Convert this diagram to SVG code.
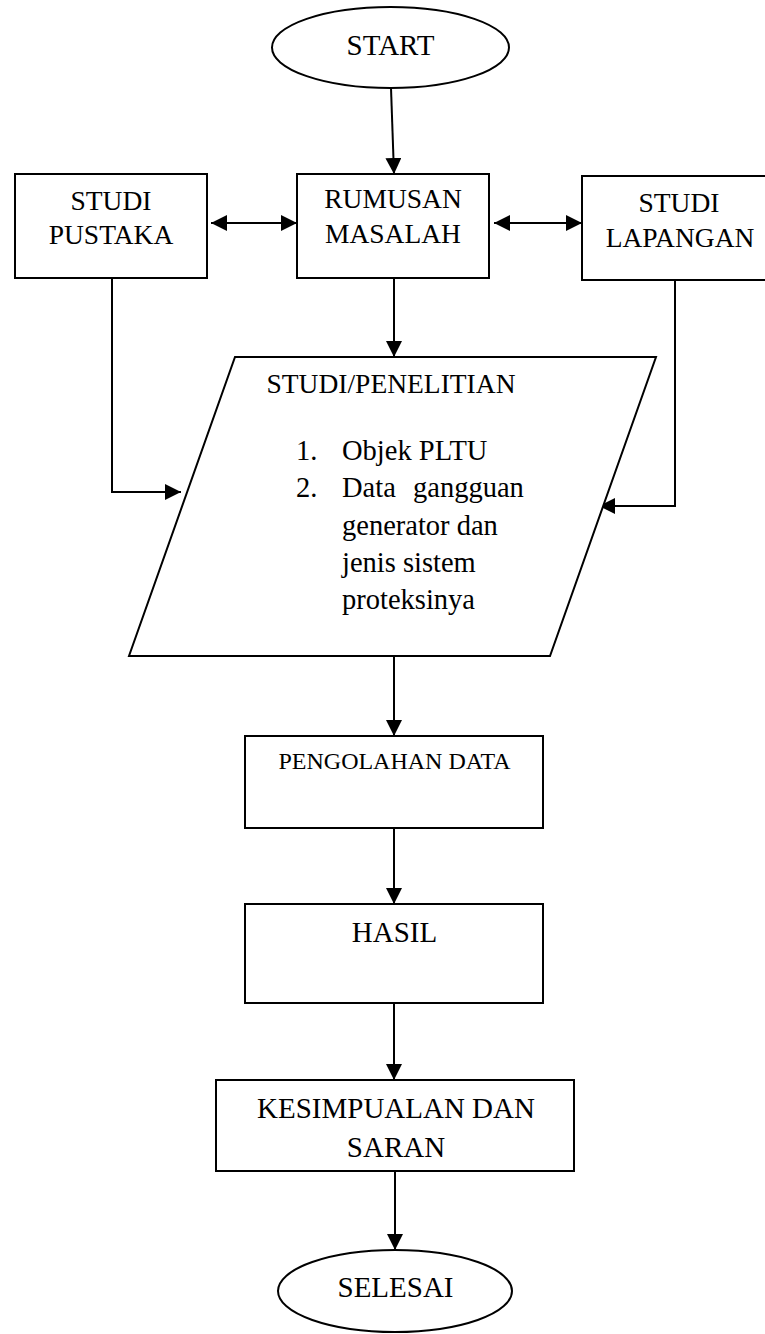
<svg xmlns="http://www.w3.org/2000/svg" width="765" height="1334" viewBox="0 0 765 1334">
  <style>
    .shape { fill: #ffffff; stroke: #000000; stroke-width: 2; }
    .conn { fill: none; stroke: #000000; stroke-width: 2; }
    text { font-family: "Liberation Serif", "Times New Roman", serif; fill: #000000; }
    .lbl { font-size: 27.5px; text-anchor: middle; }
    .big { font-size: 29px; text-anchor: middle; }
    .sm { font-size: 24px; text-anchor: middle; }
    .body { font-size: 28.5px; }
  </style>
  <defs>
    <marker id="head" viewBox="0 0 16 16" refX="16" refY="8" markerWidth="16" markerHeight="16" markerUnits="userSpaceOnUse" orient="auto-start-reverse">
      <path d="M0,0 L16,8 L0,16 z" fill="#000000"/>
    </marker>
  </defs>

  <rect width="765" height="1334" fill="#ffffff"/>

  <!-- connectors -->
  <g id="connectors">
    <line class="conn" x1="391" y1="88" x2="394" y2="174" marker-end="url(#head)"/>
    <line class="conn" x1="211" y1="223" x2="297" y2="223" marker-start="url(#head)" marker-end="url(#head)"/>
    <line class="conn" x1="494" y1="223" x2="582" y2="223" marker-start="url(#head)" marker-end="url(#head)"/>
    <line class="conn" x1="394" y1="278" x2="394" y2="357" marker-end="url(#head)"/>
    <polyline class="conn" points="112,278 112,492 181,492" marker-end="url(#head)"/>
    <polyline class="conn" points="675,280 675,506 599,506" marker-end="url(#head)"/>
    <line class="conn" x1="394" y1="656" x2="394" y2="736" marker-end="url(#head)"/>
    <line class="conn" x1="394" y1="828" x2="394" y2="904" marker-end="url(#head)"/>
    <line class="conn" x1="394" y1="1003" x2="394" y2="1080" marker-end="url(#head)"/>
    <line class="conn" x1="395" y1="1171" x2="395" y2="1250" marker-end="url(#head)"/>
  </g>

  <!-- start terminal -->
  <g id="start">
    <ellipse class="shape" cx="390.5" cy="47.5" rx="118.5" ry="40.5"/>
    <text class="big" x="390.5" y="55">START</text>
  </g>

  <!-- literature study -->
  <g id="studi-pustaka">
    <rect class="shape" x="15" y="174" width="192" height="104"/>
    <text class="lbl" x="111" y="210">STUDI</text>
    <text class="lbl" x="111" y="244">PUSTAKA</text>
  </g>

  <!-- problem formulation -->
  <g id="rumusan-masalah">
    <rect class="shape" x="297" y="174" width="192" height="104"/>
    <text class="lbl" x="393" y="208">RUMUSAN</text>
    <text class="lbl" x="393" y="243">MASALAH</text>
  </g>

  <!-- field study -->
  <g id="studi-lapangan">
    <rect class="shape" x="582" y="176" width="196" height="104"/>
    <text class="lbl" x="679" y="212">STUDI</text>
    <text class="lbl" x="680" y="247">LAPANGAN</text>
  </g>

  <!-- research / data input -->
  <g id="studi-penelitian">
    <polygon class="shape" points="235,357 656,357 550,656 129,656"/>
    <text x="391" y="393" text-anchor="middle" style="font-size:27.5px">STUDI/PENELITIAN</text>
    <text class="body" x="296" y="460">1.</text>
    <text class="body" x="342" y="460">Objek PLTU</text>
    <text class="body" x="296" y="497">2.</text>
    <text class="body" x="342" y="497">Data</text>
    <text class="body" x="413" y="497">gangguan</text>
    <text class="body" x="342" y="535">generator dan</text>
    <text class="body" x="342" y="572">jenis sistem</text>
    <text class="body" x="342" y="609">proteksinya</text>
  </g>

  <!-- data processing -->
  <g id="pengolahan-data">
    <rect class="shape" x="245" y="736" width="298" height="92"/>
    <text class="sm" x="394.5" y="769">PENGOLAHAN DATA</text>
  </g>

  <!-- results -->
  <g id="hasil">
    <rect class="shape" x="245" y="904" width="298" height="99"/>
    <text class="big" x="394.5" y="942">HASIL</text>
  </g>

  <!-- conclusions and suggestions -->
  <g id="kesimpulan">
    <rect class="shape" x="216" y="1080" width="358" height="91"/>
    <text class="big" x="396" y="1118">KESIMPUALAN DAN</text>
    <text class="big" x="396" y="1157">SARAN</text>
  </g>

  <!-- end terminal -->
  <g id="selesai">
    <ellipse class="shape" cx="395" cy="1291" rx="117" ry="41"/>
    <text class="big" x="395.5" y="1297">SELESAI</text>
  </g>
</svg>
